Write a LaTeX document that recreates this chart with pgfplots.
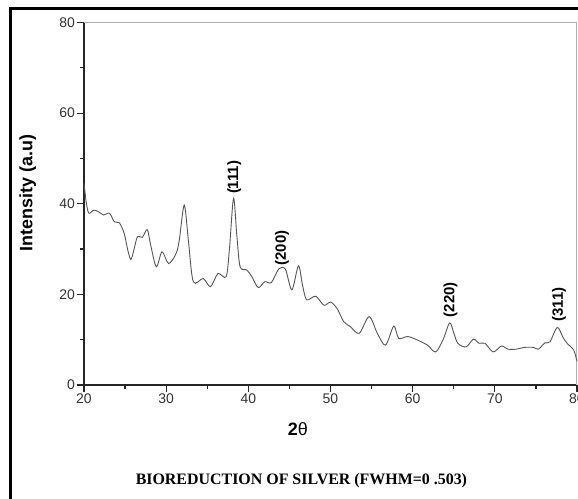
\documentclass[border=0pt]{standalone}
\usepackage{fontspec}
\setmainfont{Liberation Serif}
\setsansfont{Liberation Sans}
\usepackage{pgfplots}
\pgfplotsset{compat=1.18}
\definecolor{curve}{HTML}{555555}
\begin{document}
\begin{tikzpicture}
\path[use as bounding box] (-84bp,-114bp) rectangle (494bp,385bp);
\draw[line width=2.5bp,black] (-73.7bp,-120bp) -- (-73.7bp,376.5bp) -- (500bp,376.5bp);
\begin{axis}[
  scale only axis,
  width=493bp, height=362.5bp,
  xmin=20, xmax=80, ymin=0, ymax=80,
  axis lines=left,
  axis line style={-, line width=1.3bp, black!85},
  xtick={20,30,...,80}, ytick={0,20,...,80},
  minor xtick={25,35,...,75}, minor ytick={10,30,50,70},
  tick align=outside,
  major tick length=7bp, minor tick length=4bp,
  tick style={line width=1.2bp, black!85},
  /pgf/number format/assume math mode=true,
  ticklabel style={font=\sffamily\fontsize{14}{14}\selectfont, text=black!80},
  xticklabel style={inner sep=1.5bp},
  yticklabel style={inner sep=2bp},
  xlabel={\textbf{2}θ},
  ylabel={\textbf{Intensity (a.u)}},
  xlabel style={font=\sffamily\fontsize{18}{18}\selectfont, at={(axis description cs:0.434,-0.121)}, anchor=center},
  ylabel style={font=\sffamily\fontsize{18}{18}\selectfont, at={(axis description cs:-0.114,0.53)}, anchor=center, rotate=0},
  clip=false,
]
\draw[black!30, line width=1bp] (rel axis cs:0,1) -- (rel axis cs:1,1) -- (rel axis cs:1,0);
\addplot[curve, line width=0.9bp, smooth, tension=0.5] coordinates {
(20.0,44.5) (20.3,40) (20.6,37.9) (21.2,38.6) (21.8,38.2) (22.4,37.5) (23.1,37.9)
(23.7,36.0) (24.3,35.8) (24.9,33.4) (25.3,30) (25.7,27.7) (26.1,30) (26.5,32.7)
(27.1,32.6) (27.7,34.3) (28.1,31) (28.8,26.1) (29.5,29.4) (30.3,26.8) (31.2,29.0)
(31.6,32) (32.2,39.7) (32.7,32) (33.3,22.8) (34.5,23.5) (35.4,21.7) (36.3,24.6)
(37.3,23.9) (37.7,30) (38.2,41.2) (38.6,33) (39.0,26.1) (39.8,25.4) (40.4,24)
(41.2,21.5) (42.0,22.8) (42.8,22.6) (43.7,25.6) (44.5,25.6) (45.3,21.0) (46.1,26.3)
(46.6,22) (47.1,18.8) (48.2,19.6) (49.2,17.6) (50.0,18.3) (50.8,16.9) (51.6,14.0)
(52.4,12.9) (53.5,11.4) (54.7,15.1) (55.7,11.4) (56.7,8.8) (57.7,13.0) (58.3,10.3)
(59.4,10.7) (60.6,9.9) (61.8,8.8) (62.8,7.3) (63.7,10) (64.5,13.7) (65.0,11.5)
(65.5,9.2) (66.5,8.4) (67.4,10.1) (68.1,9.2) (68.8,9.2) (69.8,7.3) (70.8,8.6)
(71.6,7.9) (72.6,7.9) (73.6,8.3) (74.7,8.3) (75.3,7.9) (76.1,9.3) (76.7,9.5)
(77.6,12.7) (78.3,10.5) (78.8,9.2) (79.6,7.7) (80.0,5.2)
};
\begin{scope}[every node/.style={font=\sffamily\bfseries\fontsize{15}{15}\selectfont, rotate=90, anchor=west, inner sep=0.5bp}]
\node at (axis cs:38.3,42) {(111)};
\node at (axis cs:44.1,26.2) {(200)};
\node at (axis cs:64.6,14.8) {(220)};
\node at (axis cs:77.8,13.8) {(311)};
\end{scope}
\node[font=\bfseries\fontsize{16}{16}\selectfont, anchor=center] at (axis description cs:0.441,-0.265) {BIOREDUCTION OF SILVER (FWHM=0 .503)};
\end{axis}
\end{tikzpicture}
\end{document}
